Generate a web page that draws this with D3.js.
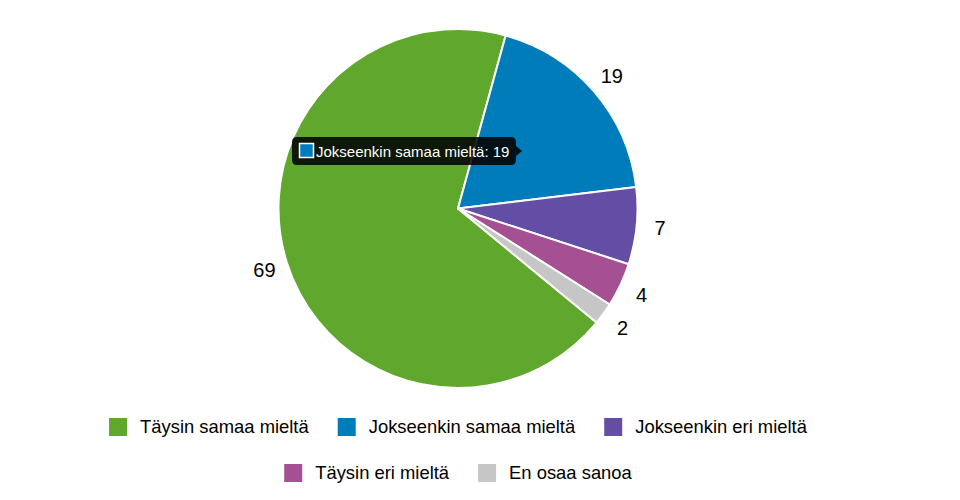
<!DOCTYPE html>
<html><head><meta charset="utf-8">
<script src="https://cdn.jsdelivr.net/npm/d3@7"></script>
<style>body{margin:0;background:#fff}svg{display:block;font-family:"Liberation Sans",Arial,sans-serif}</style>
</head><body><svg id="c" width="960" height="500"></svg>
<script>
const categories = ["Täysin samaa mieltä","Jokseenkin samaa mieltä","Jokseenkin eri mieltä","Täysin eri mieltä","En osaa sanoa"];
const values = [69,19,7,4,2];
const colors = ["#60a82d","#007cba","#644ea5","#a55092","#c6c6c6"];
const tooltipIndex = 1;

const svg = d3.select("#c");
const cx = 458, cy = 208.5, r = 179.5;
const total = d3.sum(values);
const blueStart = 15.4 * Math.PI / 180;
const start = blueStart - values[0] / total * 2 * Math.PI;
const pie = d3.pie().sort(null).value(d => d).startAngle(start).endAngle(start + 2 * Math.PI);
const arcs = pie(values);
const arc = d3.arc().innerRadius(0).outerRadius(r);
const labelArc = d3.arc().innerRadius(203).outerRadius(203);

const g = svg.append("g").attr("transform", `translate(${cx},${cy})`);
g.selectAll("path").data(arcs).join("path")
  .attr("d", arc).attr("fill", (d, i) => colors[i])
  .attr("stroke", "#fff").attr("stroke-width", 2).attr("stroke-linejoin", "round");
g.selectAll("text").data(arcs).join("text")
  .attr("transform", d => `translate(${labelArc.centroid(d)})`)
  .attr("text-anchor", "middle").attr("dy", "0.35em")
  .attr("font-size", 20).attr("fill", "#000")
  .text(d => d.data);

// legend
const rows = [[0,1,2],[3,4]];
const rowY = [427, 473];
const fs = 18.4, sq = 18, textOff = 31, itemGap = 29;
rows.forEach((row, ri) => {
  const tmp = svg.append("text").attr("font-size", fs);
  const widths = row.map(i => { tmp.text(categories[i]); return tmp.node().getComputedTextLength(); });
  tmp.remove();
  const itemW = widths.map(w => textOff + w);
  const totalW = d3.sum(itemW) + itemGap * (row.length - 1);
  let x = 458 - totalW / 2;
  row.forEach((i, k) => {
    const lg = svg.append("g").attr("transform", `translate(${x},${rowY[ri]})`);
    lg.append("rect").attr("x", 0).attr("y", -sq / 2).attr("width", sq).attr("height", sq).attr("fill", colors[i]);
    lg.append("text").attr("x", textOff).attr("dy", "0.35em").attr("font-size", fs).attr("fill", "#000").text(categories[i]);
    x += itemW[k] + itemGap;
  });
});

// tooltip
const tt = svg.append("g").attr("transform", "translate(292,137)");
const tw = 224, th = 28, rr = 5;
tt.append("path").attr("fill", "rgba(0,0,0,0.86)").attr("d",
  `M${rr},0 H${tw - rr} Q${tw},0 ${tw},${rr} V${th / 2 - 5} L${tw + 6},${th / 2} L${tw},${th / 2 + 5} V${th - rr} Q${tw},${th} ${tw - rr},${th} H${rr} Q0,${th} 0,${th - rr} V${rr} Q0,0 ${rr},0 Z`);
tt.append("rect").attr("x", 7.5).attr("y", 6.5).attr("width", 14).attr("height", 14)
  .attr("fill", colors[tooltipIndex]).attr("stroke", "#fff").attr("stroke-width", 1.5);
tt.append("text").attr("x", 24).attr("y", 19.5).attr("font-size", 15).attr("fill", "#fff")
  .text(`${categories[tooltipIndex]}: ${values[tooltipIndex]}`);
</script></body></html>
